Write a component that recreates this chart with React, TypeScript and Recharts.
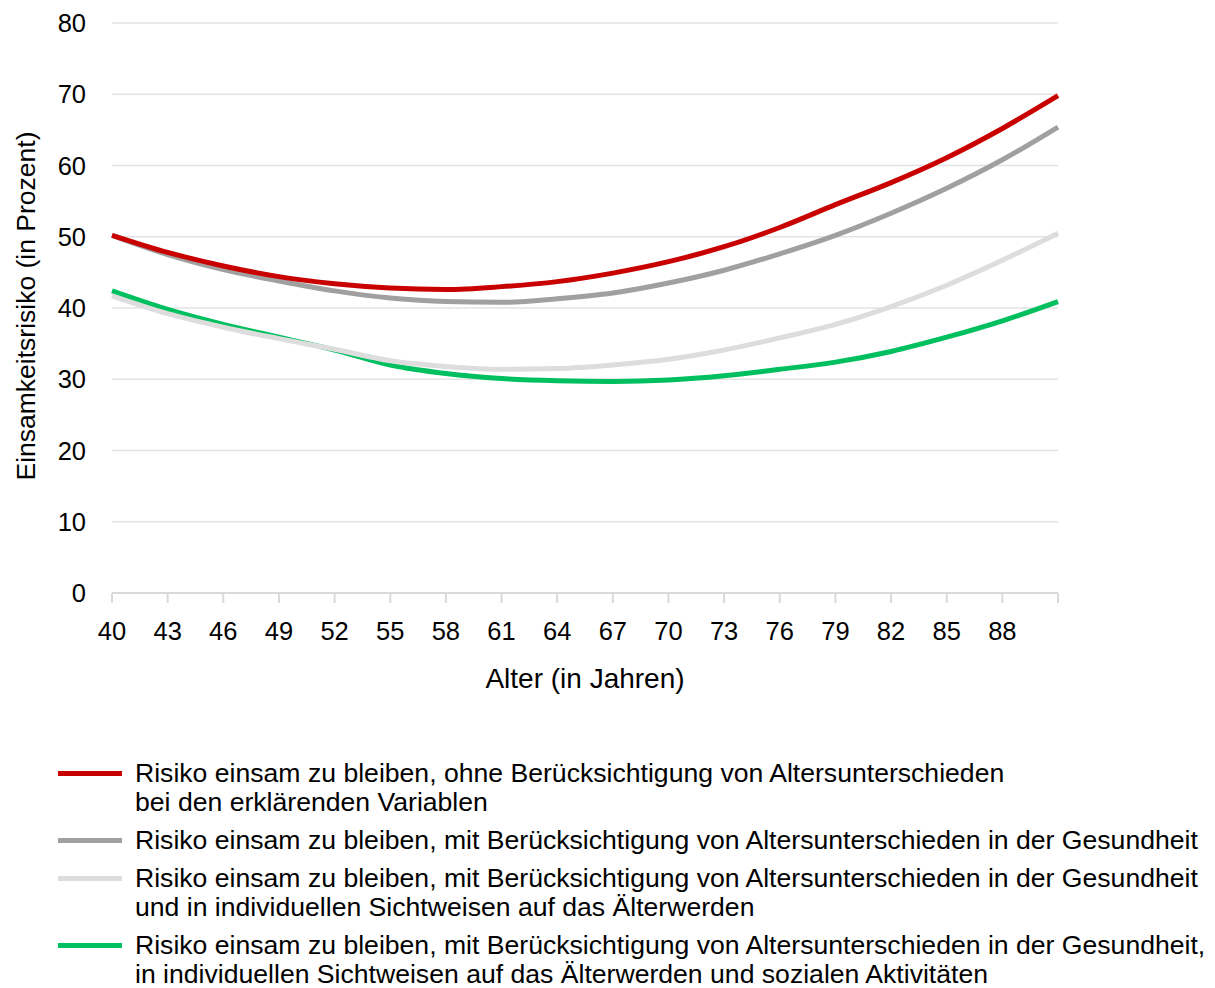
import { CartesianGrid, Label, Line, LineChart, XAxis, YAxis } from "recharts";

// Alter in Jahren (Stützpunkte alle 3 Jahre)
const AGES = [40, 43, 46, 49, 52, 55, 58, 61, 64, 67, 70, 73, 76, 79, 82, 85, 88, 91];

// Einsamkeitsrisiko in Prozent
const OHNE = [50.2, 47.8, 45.9, 44.4, 43.4, 42.8, 42.6, 43.0, 43.7, 44.9, 46.5, 48.6, 51.3, 54.5, 57.6, 61.1, 65.2, 69.8];
const GESUNDHEIT = [50.2, 47.5, 45.4, 43.8, 42.4, 41.4, 40.9, 40.8, 41.3, 42.1, 43.5, 45.3, 47.6, 50.2, 53.3, 56.8, 60.8, 65.4];
const SICHTWEISEN = [41.7, 39.2, 37.3, 35.7, 34.2, 32.6, 31.8, 31.4, 31.5, 32.0, 32.8, 34.1, 35.8, 37.7, 40.2, 43.2, 46.7, 50.5];
const AKTIVITAETEN = [42.4, 39.8, 37.7, 35.9, 34.1, 32.0, 30.8, 30.1, 29.8, 29.7, 29.9, 30.5, 31.4, 32.4, 33.9, 35.9, 38.2, 40.9];

const X_TICKS = [40, 43, 46, 49, 52, 55, 58, 61, 64, 67, 70, 73, 76, 79, 82, 85, 88, 91];
const X_LABELS = ["40", "43", "46", "49", "52", "55", "58", "61", "64", "67", "70", "73", "76", "79", "82", "85", "88", ""];
const Y_TICKS = [0, 10, 20, 30, 40, 50, 60, 70, 80];

const SERIES = [
  {
    key: "ohne",
    color: "#C80000",
    lines: [
      "Risiko einsam zu bleiben, ohne Berücksichtigung von Altersunterschieden",
      "bei den erklärenden Variablen",
    ],
  },
  {
    key: "gesundheit",
    color: "#A0A0A0",
    lines: ["Risiko einsam zu bleiben, mit Berücksichtigung von Altersunterschieden in der Gesundheit"],
  },
  {
    key: "sichtweisen",
    color: "#DDDDDD",
    lines: [
      "Risiko einsam zu bleiben, mit Berücksichtigung von Altersunterschieden in der Gesundheit",
      "und in individuellen Sichtweisen auf das Älterwerden",
    ],
  },
  {
    key: "aktivitaeten",
    color: "#00BF5F",
    lines: [
      "Risiko einsam zu bleiben, mit Berücksichtigung von Altersunterschieden in der Gesundheit,",
      "in individuellen Sichtweisen auf das Älterwerden und sozialen Aktivitäten",
    ],
  },
];

const data = AGES.map((age, i) => ({
  age,
  ohne: OHNE[i],
  gesundheit: GESUNDHEIT[i],
  sichtweisen: SICHTWEISEN[i],
  aktivitaeten: AKTIVITAETEN[i],
}));

const FONT = '"Liberation Sans", Arial, sans-serif';
const colorOf = (key: string) => SERIES.find((s) => s.key === key)!.color;

export default function App() {
  return (
    <div style={{ position: "absolute", left: 0, top: 0, width: 1215, height: 988, fontFamily: FONT, background: "#fff" }}>
      <LineChart width={1215} height={720} data={data} margin={{ top: 23, right: 157, left: 0, bottom: 27 }}>
        <CartesianGrid horizontal vertical={false} stroke="#E3E3E3" strokeWidth={1.5} />
        <XAxis
          dataKey="age"
          type="number"
          domain={[40, 91]}
          ticks={X_TICKS}
          tickFormatter={(v: number) => X_LABELS[X_TICKS.indexOf(v)] ?? ""}
          interval={0}
          height={100}
          stroke="#D9D9D9"
          strokeWidth={2}
          tickSize={10}
          tickMargin={19}
          tick={{ fill: "#000", fontSize: 25.5, fontFamily: FONT }}
        >
          <Label
            content={({ viewBox }: any) => (
              <text
                x={viewBox.x + viewBox.width / 2}
                y={viewBox.y + 85}
                dy="0.35em"
                textAnchor="middle"
                fill="#000"
                fontSize={28}
                fontFamily={FONT}
              >
                Alter (in Jahren)
              </text>
            )}
          />
        </XAxis>
        <YAxis
          type="number"
          domain={[0, 80]}
          ticks={Y_TICKS}
          width={112}
          axisLine={false}
          tickLine={false}
          tickSize={0}
          tickMargin={26}
          tick={{ fill: "#000", fontSize: 25.5, fontFamily: FONT }}
        >
          <Label
            content={({ viewBox }: any) => {
              const cx = 26;
              const cy = viewBox.y + viewBox.height / 2 - 2;
              return (
                <text
                  x={cx}
                  y={cy}
                  dy="0.35em"
                  textAnchor="middle"
                  transform={`rotate(-90 ${cx} ${cy})`}
                  fill="#000"
                  fontSize={26.5}
                  fontFamily={FONT}
                >
                  Einsamkeitsrisiko (in Prozent)
                </text>
              );
            }}
          />
        </YAxis>
        {["gesundheit", "ohne", "aktivitaeten", "sichtweisen"].map((k) => (
          <Line
            key={k}
            dataKey={k}
            type="monotone"
            stroke={colorOf(k)}
            strokeWidth={5}
            dot={false}
            activeDot={false}
            isAnimationActive={false}
          />
        ))}
      </LineChart>

      <div style={{ position: "absolute", left: 58, top: 759 }}>
        {SERIES.map((s) => (
          <div key={s.key} style={{ display: "flex", alignItems: "flex-start", marginBottom: 9 }}>
            <div style={{ width: 64, height: 5, background: s.color, marginTop: 12, flex: "none" }} />
            <div style={{ marginLeft: 13, fontSize: 26.6, lineHeight: "29px", color: "#000", whiteSpace: "nowrap" }}>
              {s.lines.map((l, i) => (
                <div key={i}>{l}</div>
              ))}
            </div>
          </div>
        ))}
      </div>
    </div>
  );
}
